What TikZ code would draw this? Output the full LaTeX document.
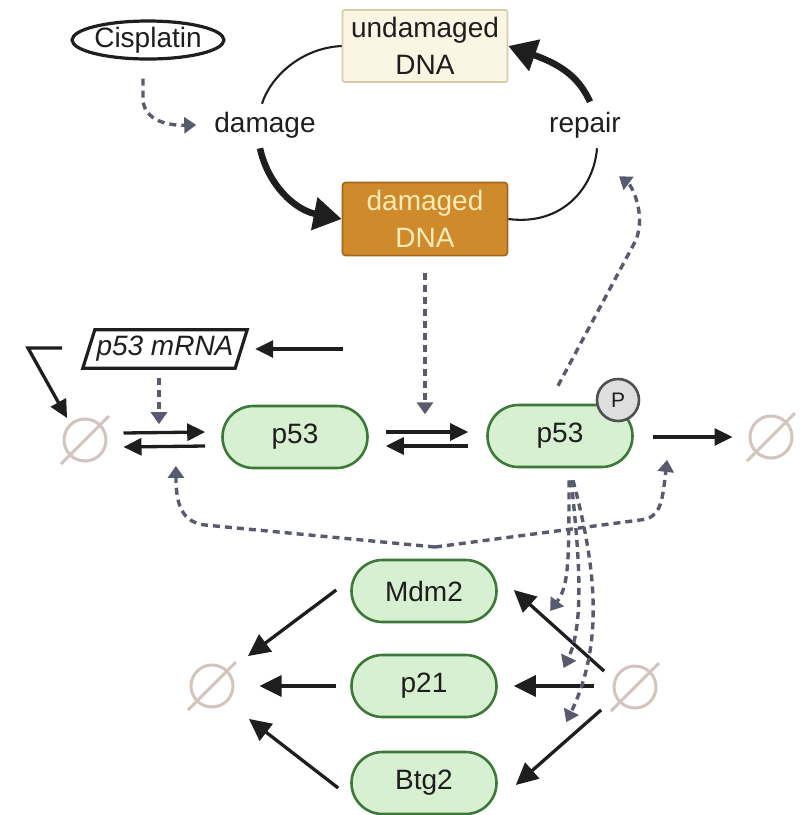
\documentclass[tikz,border=0pt]{standalone}
\usepackage{fontspec}
\setmainfont{Liberation Sans}
\usetikzlibrary{arrows.meta,calc,shapes.geometric}
\definecolor{pillfill}{HTML}{D6F0D1}
\definecolor{pillborder}{HTML}{3C7838}
\definecolor{undf}{HTML}{FBF6E3}
\definecolor{undb}{HTML}{D8CDAA}
\definecolor{dmgf}{HTML}{CF8A2C}
\definecolor{dmgb}{HTML}{A5661C}
\definecolor{dmgt}{HTML}{FDEBB8}
\definecolor{dashc}{HTML}{585B6E}
\definecolor{nullc}{HTML}{D3C4BE}
\definecolor{pfill}{HTML}{DEDEDE}
\definecolor{pborder}{HTML}{505050}
\definecolor{ink}{HTML}{1E1E1E}
\begin{document}
\begin{tikzpicture}[x=1pt,y=-1pt,
  font=\fontsize{28}{37}\selectfont,
  pill/.style={draw=pillborder, fill=pillfill, line width=2.6pt, rounded corners=31pt,
    minimum width=145pt, minimum height=62pt, inner sep=0pt, text=ink},
  solidarrow/.style={draw=ink, line width=3.3pt, -{Triangle[length=18pt,width=17pt]}},
  bigsolid/.style={draw=ink, line width=3.3pt, -{Triangle[length=22pt,width=21pt]}},
  bigarrow/.style={draw=ink, line width=6.5pt, -{Triangle[length=28pt,width=32pt]}},
  thinarc/.style={draw=ink, line width=2.1pt},
  dasharrow/.style={draw=dashc, line width=3.4pt, dash pattern=on 7pt off 5pt,
    -{Triangle[length=12pt,width=16pt]}},
  nullset/.style={circle, draw=nullc, line width=3pt, minimum size=42pt, inner sep=0pt},
  plain/.style={inner sep=0pt, text=ink}
]
\useasboundingbox (0,0) rectangle (800,815);

% top cycle
\node[ellipse, draw=ink, line width=3.2pt, minimum width=140pt, minimum height=38pt,
      inner sep=0pt, text=ink] (cis) at (148,40) {Cisplatin};
\node[draw=undb, fill=undf, line width=1.6pt, rounded corners=2pt, minimum width=165pt,
      minimum height=72pt, align=center, inner sep=0pt, text=ink] (und) at (425,46) {undamaged\\DNA};
\node[draw=dmgb, fill=dmgf, line width=1.6pt, rounded corners=3pt, minimum width=165pt,
      minimum height=73pt, align=center, inner sep=0pt, text=dmgt] (dmg) at (425,219) {damaged\\DNA};
\node[plain] (damage) at (265,125) {damage};
\node[plain] (repair) at (585,125) {repair};

\draw[thinarc] (und.west) .. controls (300,48) and (270,78) .. ($(damage.north)+(-3,-8)$);
\draw[bigarrow] ($(damage.south)+(-5,10)$) .. controls (268,185) and (295,210) .. (dmg.west);
\draw[thinarc] (dmg.east) .. controls (562,226) and (594,188) .. ($(repair.south)+(12,10)$);
\draw[bigarrow] ($(repair.north)+(5,-10)$) .. controls (580,80) and (565,66) .. (und.east);

\draw[dasharrow] ($(cis.south)+(-5,18)$) -- ++(0,22) .. controls ($(cis.south)+(-3,60)$) and ($(cis.south)+(20,65)$) .. ($(damage.west)+(-18,0)$);

% middle row
\node[pill] (p53) at (295,437) {p53};
\node[pill] (p53p) at (560,436) {p53};
\node[circle, draw=pborder, fill=pfill, line width=2.6pt, minimum size=42pt, inner sep=0pt,
      font=\fontsize{21}{22}\selectfont, text=ink] (P) at (618,400) {P};
\node[nullset] (n1) at (85,440) {};
\node[nullset] (n2) at (771,437) {};

\node[plain, minimum width=152pt, minimum height=38pt, font=\fontsize{28}{30}\selectfont\itshape] (mrna) at (165,349) {p53 mRNA};
\draw[draw=ink, line width=3.2pt] ($(mrna.north west)+(6,0)$) -- ($(mrna.north east)+(6,0)$)
  -- ($(mrna.south east)+(-6,0)$) -- ($(mrna.south west)+(-6,0)$) -- cycle;

\coordinate (mrnain) at (343,349);
\draw[solidarrow] (mrnain) -- ($(mrna.east)+(14,0)$);
\coordinate (bend) at (28,348);
\draw[solidarrow] (62,348) -- (bend) -- ($(n1.north west)+(-2,-6)$);

% equilibria
\draw[solidarrow] ($(n1.east)+(16,-7)$) -- ($(p53.west)+(-16,-5)$);
\draw[solidarrow] ($(p53.west)+(-16,9)$) -- ($(n1.east)+(16,7)$);
\draw[solidarrow] ($(p53.east)+(17,-5)$) -- ($(p53p.west)+(-18,-4)$);
\draw[solidarrow] ($(p53p.west)+(-18,10)$) -- ($(p53.east)+(17,9)$);
\draw[solidarrow] ($(p53p.east)+(19,1)$) -- ($(n2.west)+(-16,0)$);

\draw[dasharrow] ($(mrna.south)+(-6,10)$) -- ($(mrna.south)+(-6,56)$);
\draw[dasharrow] ($(dmg.south)+(0,17)$) -- ($(dmg.south)+(0,158)$);
\draw[dasharrow] ($(p53p.north)+(-2,-18)$) -- (636,240) .. controls (646,214) and (632,186) .. ($(repair.south)+(34,38)$);

% bottom nodes
\node[pill] (mdm2) at (424,591) {Mdm2};
\node[pill] (p21) at (424,686) {p21};
\node[pill] (btg2) at (424,783) {Btg2};
\node[nullset] (n3) at (212,686) {};
\node[nullset] (n4) at (635,687) {};

\foreach \n in {n1,n2,n3,n4}
  \draw[nullc, line width=3pt] ($(\n)+(-24,24)$) -- ($(\n)+(24,-24)$);

\draw[bigsolid] ($(mdm2.west)+(-14,-1)$) -- ($(n3.north east)+(20,-14)$);
\draw[bigsolid] ($(p21.west)+(-14,0)$) -- ($(n3.east)+(25,0)$);
\draw[bigsolid] ($(btg2.west)+(-12,5)$) -- ($(n3.south east)+(21,17)$);
\draw[bigsolid] ($(n4.north west)+(-15,-0)$) -- coordinate[pos=0.52] (mA) ($(mdm2.east)+(16,-1)$);
\draw[bigsolid] ($(n4.west)+(-19,-1)$) -- coordinate[pos=0.3] (mB) ($(p21.east)+(16,0)$);
\draw[bigsolid] ($(n4.south west)+(-18,7)$) -- coordinate[pos=0.35] (mC) ($(btg2.east)+(18,2)$);

% Mdm2 feedback to degradation
\coordinate (fb) at (435,547);
\draw[dasharrow] (fb) -- (205,525) .. controls (182,522) and (176,505) .. ($(n1.south east)+(75,10)$);
\draw[dasharrow] (fb) -- (640,520) .. controls (660,518) and (662,505) .. ($(n2.south west)+(-88,7)$);

% p53P to targets
\draw[dasharrow] ($(p53p.south)+(9,12)$) .. controls (569,560) and (569,586) .. ($(mA)+(-7,-18)$);
\draw[dasharrow] ($(p53p.south)+(11,12)$) .. controls (580,560) and (584,625) .. ($(mB)+(-6,-18)$);
\draw[dasharrow] ($(p53p.south)+(13,12)$) .. controls (594,560) and (606,640) .. ($(mC)+(-5,-14)$);
\end{tikzpicture}
\end{document}
